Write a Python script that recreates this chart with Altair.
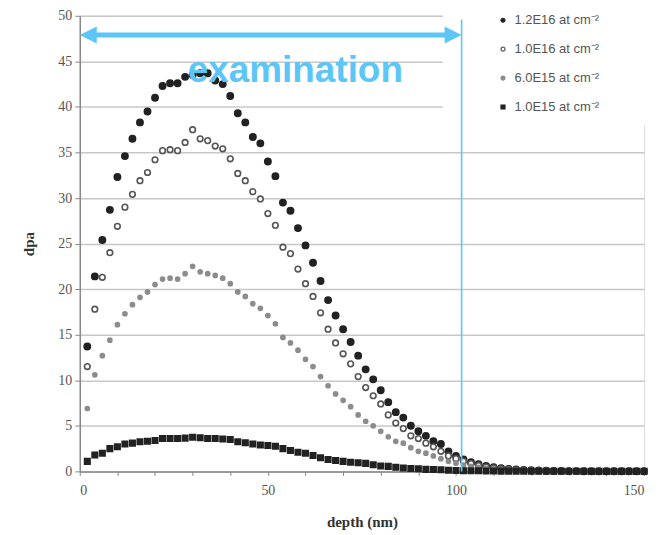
import altair as alt
import pandas as pd

# ---------------- data ----------------
depth = [2, 4, 6, 8, 10, 12, 14, 16, 18, 20, 22, 24, 26, 28, 30, 32, 34, 36, 38, 40,
         42, 44, 46, 48, 50, 52, 54, 56, 58, 60, 62, 64, 66, 68, 70, 72, 74, 76, 78, 80,
         82, 84, 86, 88, 90, 92, 94, 96, 98, 100, 102, 104, 106, 108, 110, 112, 114, 116,
         118, 120, 122, 124, 126, 128, 130, 132, 134, 136, 138, 140, 142, 144, 146, 148, 150]

series_names = ["1.2E16 at cm⁻²", "1.0E16 at cm⁻²", "6.0E15 at cm⁻²", "1.0E15 at cm⁻²"]

dpa_12e16 = [13.7, 21.4, 25.4, 28.7, 32.3, 34.6, 36.5, 38.3, 39.5, 41.0,
             42.3, 42.6, 42.6, 43.3, 43.5, 43.7, 43.7, 42.9, 42.5, 41.2,
             39.3, 38.3, 36.7, 36.0, 34.0, 32.4, 29.5, 28.6, 26.7, 24.8,
             22.9, 20.9, 18.8, 17.1, 15.6, 14.2, 12.7, 11.2, 10.1, 8.9,
             7.6, 6.5, 5.9, 5.0, 4.4, 3.9, 3.3, 3.0, 2.2, 1.7,
             1.3, 1.0, 0.8, 0.6, 0.45, 0.35, 0.27, 0.2, 0.15, 0.12,
             0.09, 0.07, 0.05, 0.04, 0.03, 0.03, 0.02, 0.02, 0.01, 0.01,
             0.01, 0.01, 0.01, 0.01, 0.01]

dpa_10e16 = [11.5, 17.8, 21.3, 24.0, 26.9, 29.0, 30.4, 31.9, 32.8, 34.2,
             35.2, 35.3, 35.2, 36.1, 37.5, 36.5, 36.3, 35.7, 35.4, 34.3,
             32.7, 31.9, 30.7, 29.9, 28.3, 27.0, 24.6, 23.9, 22.2, 20.6,
             19.2, 17.4, 15.6, 14.1, 12.9, 11.8, 10.4, 9.2, 8.3, 7.4,
             6.2, 5.3, 4.7, 3.9, 3.6, 3.1, 2.7, 2.2, 1.7, 1.4,
             1.1, 0.85, 0.65, 0.5, 0.38, 0.28, 0.21, 0.16, 0.12, 0.09,
             0.07, 0.05, 0.04, 0.03, 0.02, 0.02, 0.01, 0.01, 0.01, 0.01,
             0.01, 0.01, 0.01, 0.0, 0.0]

dpa_60e15 = [6.9, 10.6, 12.7, 14.4, 16.1, 17.3, 18.3, 19.1, 19.7, 20.5,
             21.1, 21.2, 21.1, 21.7, 22.5, 21.9, 21.7, 21.5, 21.2, 20.6,
             19.7, 19.2, 18.4, 17.9, 17.1, 16.2, 14.7, 14.1, 13.3, 12.3,
             11.5, 10.4, 9.4, 8.5, 7.8, 7.1, 6.2, 5.5, 5.0, 4.4,
             3.8, 3.3, 3.1, 2.6, 2.2, 2.0, 1.7, 1.4, 1.1, 0.9,
             0.7, 0.55, 0.45, 0.35, 0.27, 0.2, 0.16, 0.12, 0.09, 0.07,
             0.05, 0.04, 0.03, 0.02, 0.02, 0.01, 0.01, 0.01, 0.01, 0.0,
             0.0, 0.0, 0.0, 0.0, 0.0]

dpa_10e15 = [1.1, 1.8, 2.0, 2.5, 2.7, 3.0, 3.1, 3.25, 3.3, 3.4,
             3.6, 3.6, 3.6, 3.65, 3.75, 3.7, 3.6, 3.6, 3.55, 3.5,
             3.25, 3.15, 3.0, 2.9, 2.85, 2.75, 2.5, 2.3, 2.1, 2.0,
             1.75, 1.5, 1.3, 1.2, 1.1, 1.0, 0.95, 0.88, 0.73, 0.6,
             0.55, 0.45, 0.38, 0.32, 0.28, 0.22, 0.2, 0.17, 0.13, 0.1,
             0.08, 0.07, 0.06, 0.05, 0.04, 0.03, 0.03, 0.02, 0.02, 0.02,
             0.01, 0.01, 0.01, 0.01, 0.01, 0.01, 0.0, 0.0, 0.0, 0.0,
             0.0, 0.0, 0.0, 0.0, 0.0]

x_ticks = [0, 10, 20, 30, 40, 50, 60, 70, 80, 90, 100, 110, 120, 130, 140, 150]
y_ticks = [0, 5, 10, 15, 20, 25, 30, 35, 40, 45, 50]

# annotation values (data space)
exam_start, exam_end = 0, 101.5
arrow_level = 47.9
label_pos = [57.3, 42.7]
blue = "#5cc6f7"

# marker styling per series
marker_shapes = ["circle", "circle", "circle", "square"]
marker_fills = ["#222222", "#ffffff", "#8c8c8c", "#222222"]
marker_strokes = ["#222222", "#555555", "#8c8c8c", "#222222"]
marker_sizes = [40, 32, 17, 30]

series_values = [dpa_12e16, dpa_10e16, dpa_60e15, dpa_10e15]

xs = alt.Scale(domain=[0, 150], nice=False, zero=False)
ys = alt.Scale(domain=[0, 50], nice=False)

serif = "Liberation Serif"

x_axis = alt.Axis(values=x_ticks,
                  labelExpr="datum.value % 50 === 0 ? datum.label : ''",
                  grid=False, title="depth (nm)", titleFont=serif, titleFontWeight="bold",
                  titleFontSize=15, titleColor="#333", labelFont=serif, labelFontSize=14,
                  labelColor="#555", domainColor="#888", domainWidth=1.5, tickColor="#888",
                  tickSize=4, labelPadding=8, titlePadding=17, labelOverlap=False)
y_axis = alt.Axis(values=y_ticks, grid=True, gridColor="#c8c8c8", gridWidth=1.5,
                  title="dpa", titleFont=serif, titleFontWeight="bold", titleFontSize=15,
                  titleColor="#333", labelFont=serif, labelFontSize=14, labelColor="#555",
                  domainColor="#888", domainWidth=1.5, tickColor="#888", tickSize=5,
                  labelPadding=3, titlePadding=21, labelOverlap=False)

legend = alt.Legend(title=None, orient="none", legendX=418, legendY=-2,
                    labelFont="Liberation Sans", labelFontSize=13, labelColor="#555",
                    rowPadding=15, labelLimit=300, symbolStrokeWidth=1.2, symbolSize=16,
                    symbolOffset=0, labelOffset=5)

shape_scale = alt.Scale(domain=series_names, range=marker_shapes)
fill_scale = alt.Scale(domain=series_names, range=marker_fills)
stroke_scale = alt.Scale(domain=series_names, range=marker_strokes)

# white patch behind the legend (hides grid lines there)
patch = alt.Chart(pd.DataFrame({"x": [96.5], "x2": [151], "y": [38], "y2": [50.5]})).mark_rect(
    color="white").encode(x=alt.X("x:Q", scale=xs, axis=x_axis), x2="x2:Q",
                          y=alt.Y("y:Q", scale=ys, axis=y_axis), y2="y2:Q")

point_layers = []
for name, vals, size in zip(series_names, series_values, marker_sizes):
    sdf = pd.DataFrame({"depth": depth, "dpa": vals, "fluence": name})
    point_layers.append(
        alt.Chart(sdf).mark_point(opacity=1, strokeWidth=1.6, size=size).encode(
            x=alt.X("depth:Q", scale=xs, axis=x_axis),
            y=alt.Y("dpa:Q", scale=ys, axis=y_axis),
            shape=alt.Shape("fluence:N", scale=shape_scale, legend=legend),
            fill=alt.Fill("fluence:N", scale=fill_scale, legend=legend),
            stroke=alt.Stroke("fluence:N", scale=stroke_scale, legend=legend),
        )
    )

vline = alt.Chart(pd.DataFrame({"x": [exam_end], "y": [0], "y2": [49.6]})).mark_rule(
    color=blue, strokeWidth=1.6).encode(x=alt.X("x:Q", scale=xs, axis=x_axis),
                                        y=alt.Y("y:Q", scale=ys, axis=y_axis), y2="y2:Q")

arrow = alt.Chart(pd.DataFrame({"x": [exam_start + 1.5], "x2": [exam_end - 1.5], "y": [arrow_level]})).mark_rule(
    color=blue, strokeWidth=5).encode(x=alt.X("x:Q", scale=xs, axis=x_axis), x2="x2:Q",
                                      y=alt.Y("y:Q", scale=ys, axis=y_axis))

head_l = alt.Chart(pd.DataFrame({"x": [exam_start], "y": [arrow_level]})).mark_point(
    shape="M0,0L2,-1L2,1Z", filled=True, color=blue, opacity=1, size=290, strokeWidth=0).encode(
    x=alt.X("x:Q", scale=xs, axis=x_axis), y=alt.Y("y:Q", scale=ys, axis=y_axis))
head_r = alt.Chart(pd.DataFrame({"x": [exam_end], "y": [arrow_level]})).mark_point(
    shape="M0,0L-2,-1L-2,1Z", filled=True, color=blue, opacity=1, size=290, strokeWidth=0).encode(
    x=alt.X("x:Q", scale=xs, axis=x_axis), y=alt.Y("y:Q", scale=ys, axis=y_axis))

label = alt.Chart(pd.DataFrame({"x": [label_pos[0]], "y": [label_pos[1]], "t": ["examination"]})).mark_text(
    font="Liberation Sans", fontWeight="bold", fontSize=37, color=blue, align="center",
    baseline="alphabetic").encode(x=alt.X("x:Q", scale=xs, axis=x_axis),
                                  y=alt.Y("y:Q", scale=ys, axis=y_axis), text="t:N")

chart = alt.layer(patch, *point_layers, vline, arrow, head_l, head_r, label).properties(
    width=566, height=457,
    autosize=alt.AutoSizeParams(type="none"),
    padding={"left": 72, "top": 7, "right": 20, "bottom": 60},
).configure_view(stroke=None).configure_axis(labelOverlap=False).configure(background="white")

chart.save("out.html", embed_options={"renderer": "svg", "actions": False})
